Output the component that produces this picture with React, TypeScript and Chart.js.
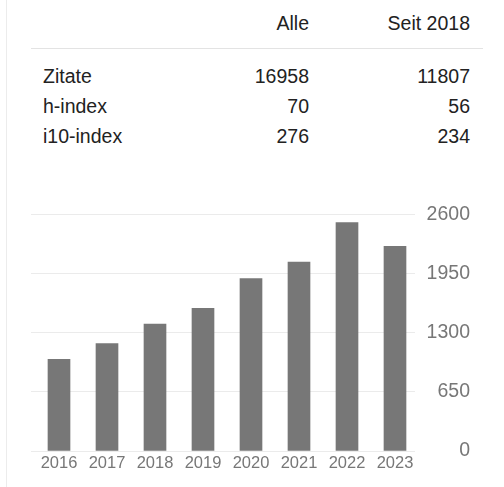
import React, { useEffect, useRef } from "react";
import { Chart, registerables } from "chart.js";

Chart.register(...registerables);

const years = ["2016", "2017", "2018", "2019", "2020", "2021", "2022", "2023"];
const citations = [1008, 1181, 1397, 1571, 1896, 2080, 2513, 2253];
const yTicks = [0, 650, 1300, 1950, 2600];

const headerLabels = ["Alle", "Seit 2018"];
const metricLabels = ["Zitate", "h-index", "i10-index"];
const allValues = ["16958", "70", "276"];
const sinceValues = ["11807", "56", "234"];

const FONT = "Arial, 'Liberation Sans', Helvetica, sans-serif";

// The category band in the reference sits 4px right of the gridlines.
const shiftCategories = {
  id: "shiftCategories",
  afterLayout(chart: any) {
    const x = chart.scales.x;
    if (x) {
      x._startPixel += 4;
      x._endPixel += 4;
    }
  },
};

export default function App() {
  const canvasRef = useRef<HTMLCanvasElement | null>(null);

  useEffect(() => {
    const canvas = canvasRef.current;
    if (!canvas) return;
    const chart = new Chart(canvas, {
      type: "bar",
      data: {
        labels: years,
        datasets: [
          {
            data: citations,
            backgroundColor: "#777777",
            borderWidth: 0,
            barThickness: 22,
          },
        ],
      },
      plugins: [shiftCategories],
      options: {
        animation: false,
        responsive: true,
        maintainAspectRatio: false,
        layout: { padding: { left: 31, top: 21, right: 34, bottom: 0 } },
        plugins: { legend: { display: false }, tooltip: { enabled: false } },
        scales: {
          x: {
            grid: { display: false, drawTicks: false },
            border: { display: false },
            ticks: {
              color: "#777777",
              font: { family: FONT, size: 16.5 },
              padding: 3,
              maxRotation: 0,
            },
            afterFit: (scale: any) => {
              scale.height = 36;
            },
          },
          y: {
            position: "right",
            min: 0,
            max: 2600,
            afterBuildTicks: (scale: any) => {
              scale.ticks = yTicks.map((v) => ({ value: v }));
            },
            grid: { color: "#ebebeb", drawTicks: false, lineWidth: 1 },
            border: { display: false },
            ticks: {
              color: "#777777",
              font: { family: FONT, size: 19.5 },
              padding: 13,
              crossAlign: "far",
              callback: (value: any) => String(value),
            },
            afterFit: (scale: any) => {
              scale.width = 55;
            },
          },
        },
      },
    } as any);
    return () => chart.destroy();
  }, []);

  const rowCenters = [76, 106, 136];

  return (
    <div
      style={{
        position: "absolute",
        left: 0,
        top: 0,
        width: 504,
        height: 487,
        background: "#ffffff",
        fontFamily: FONT,
        fontSize: 19.5,
        color: "#222222",
        overflow: "hidden",
      }}
    >
      <div
        style={{
          position: "absolute",
          left: 6,
          top: 0,
          width: 1,
          height: 487,
          background: "#ececec",
        }}
      />
      <div style={{ position: "absolute", right: 195, top: 8, height: 30, lineHeight: "30px", whiteSpace: "nowrap" }}>
        {headerLabels[0]}
      </div>
      <div style={{ position: "absolute", right: 34, top: 8, height: 30, lineHeight: "30px", whiteSpace: "nowrap" }}>
        {headerLabels[1]}
      </div>
      <div
        style={{
          position: "absolute",
          left: 31,
          top: 48,
          width: 452,
          height: 1,
          background: "#e3e3e3",
        }}
      />
      {metricLabels.map((label, i) => (
        <React.Fragment key={label}>
          <div style={{ position: "absolute", left: 43, top: rowCenters[i] - 15, height: 30, lineHeight: "30px", whiteSpace: "nowrap" }}>
            {label}
          </div>
          <div style={{ position: "absolute", right: 195, top: rowCenters[i] - 15, height: 30, lineHeight: "30px", whiteSpace: "nowrap" }}>
            {allValues[i]}
          </div>
          <div style={{ position: "absolute", right: 34, top: rowCenters[i] - 15, height: 30, lineHeight: "30px", whiteSpace: "nowrap" }}>
            {sinceValues[i]}
          </div>
        </React.Fragment>
      ))}
      <div style={{ position: "absolute", left: 0, top: 190, width: 504, height: 297 }}>
        <canvas ref={canvasRef} style={{ display: "block" }} />
      </div>
    </div>
  );
}
